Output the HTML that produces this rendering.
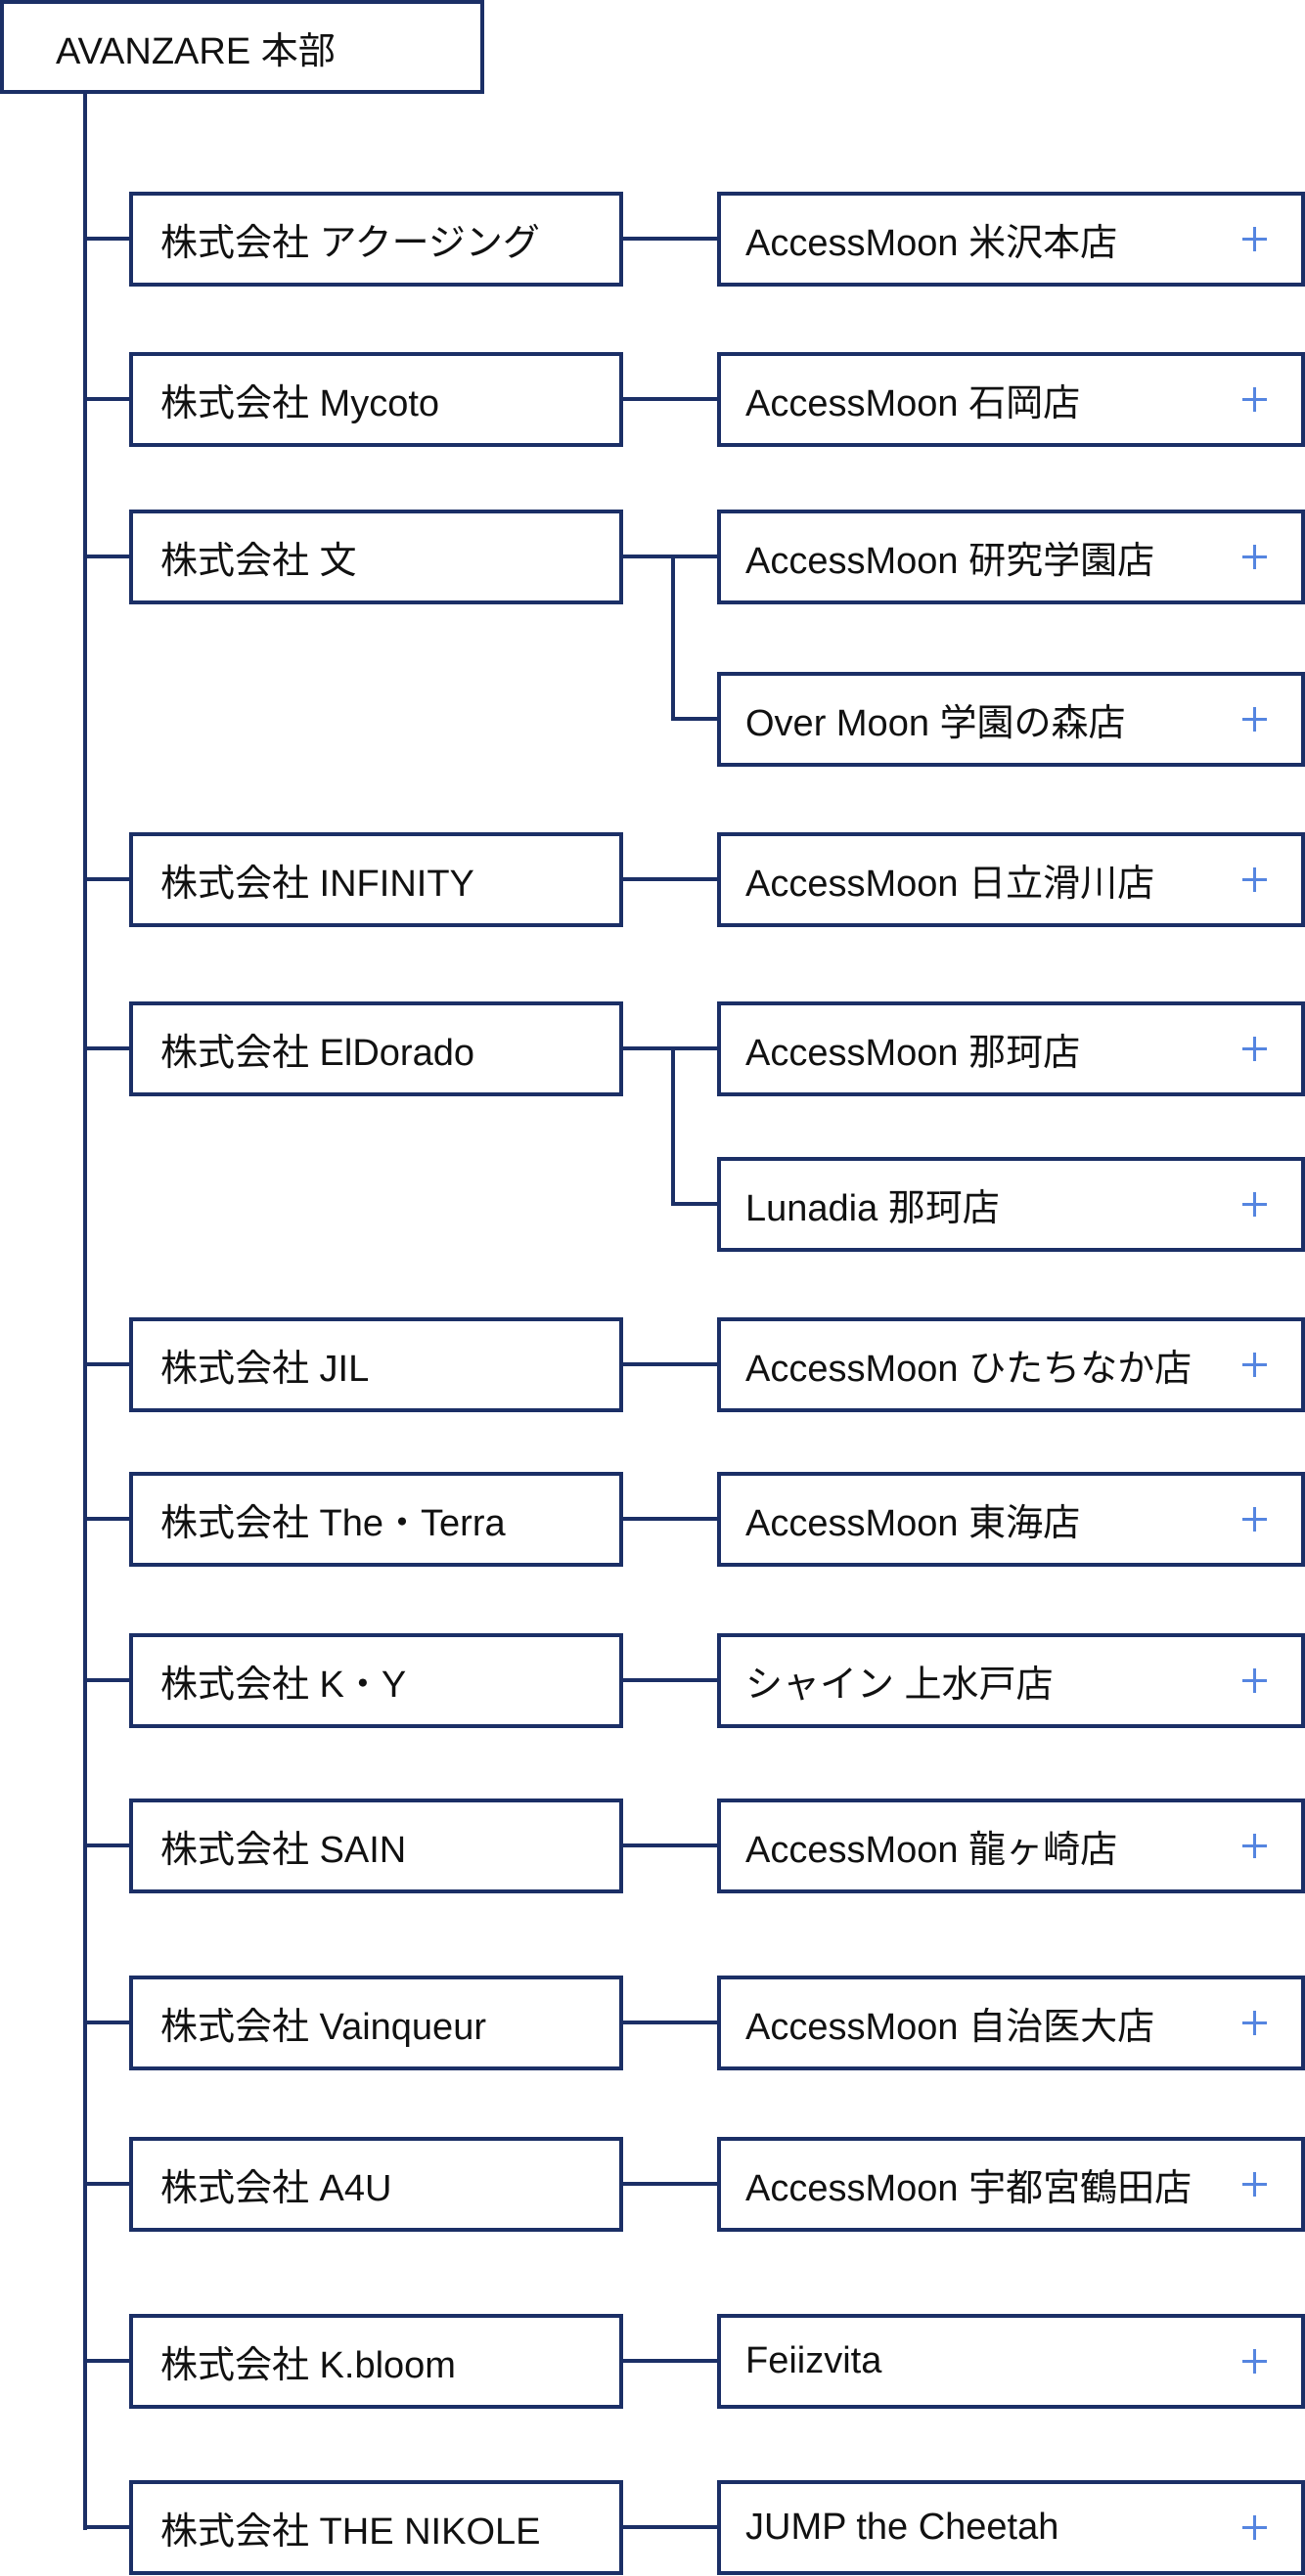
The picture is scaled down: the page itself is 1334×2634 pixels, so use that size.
<!DOCTYPE html>
<html><head><meta charset="utf-8"><style>
body{margin:0;width:1334px;height:2634px;background:#fff;position:relative;overflow:hidden;font-family:"Liberation Sans","Noto Sans CJK JP",sans-serif;color:#111;}
.b{position:absolute;box-sizing:border-box;border:4px solid #1b2f66;background:#fff;font-size:38px;display:flex;align-items:center;white-space:nowrap;}
.c{left:132px;width:505px;height:97px;padding-left:28px;}
.s{left:733px;width:601px;height:97px;padding-left:25px;}
.s::after{content:"";position:absolute;right:35px;top:50%;width:25px;height:3px;margin-top:-1.5px;background:#5585e0;}
.s::before{content:"";position:absolute;right:46px;top:50%;width:3px;height:25px;margin-top:-12.5px;background:#5585e0;}
.l{position:absolute;background:#1b2f66;}
</style></head><body>
<div class="b" style="left:0;top:0;width:495px;height:96px;padding-left:53px;">AVANZARE 本部</div>
<div class="l" style="left:85px;top:94px;width:4px;height:2493px;"></div>

<div id="rows"></div>
<script>
var R=[
["アクージング",196,["AccessMoon 米沢本店"]],
["Mycoto",360,["AccessMoon 石岡店"]],
["文",521,["AccessMoon 研究学園店","Over Moon 学園の森店"],687],
["INFINITY",851,["AccessMoon 日立滑川店"]],
["ElDorado",1024,["AccessMoon 那珂店","Lunadia 那珂店"],1183],
["JIL",1347,["AccessMoon ひたちなか店"]],
["The・Terra",1505,["AccessMoon 東海店"]],
["K・Y",1670,["シャイン 上水戸店"]],
["SAIN",1839,["AccessMoon 龍ヶ崎店"]],
["Vainqueur",2020,["AccessMoon 自治医大店"]],
["A4U",2185,["AccessMoon 宇都宮鶴田店"]],
["K.bloom",2366,["Feiizvita"]],
["THE NIKOLE",2536,["JUMP the Cheetah"]]
];
var h="";
R.forEach(function(r){
var t=r[1],m=t+48;
h+='<div class="b c" style="top:'+t+'px">株式会社 '+r[0]+'</div>';
h+='<div class="l" style="left:87px;top:'+(m-2)+'px;width:46px;height:4px"></div>';
h+='<div class="l" style="left:636px;top:'+(m-2)+'px;width:98px;height:4px"></div>';
h+='<div class="b s" style="top:'+t+'px">'+r[2][0]+'</div>';
if(r[2][1]){var t2=r[3],m2=t2+48;
h+='<div class="b s" style="top:'+t2+'px">'+r[2][1]+'</div>';
h+='<div class="l" style="left:686px;top:'+(m-2)+'px;width:4px;height:'+(m2-m+4)+'px"></div>';
h+='<div class="l" style="left:686px;top:'+(m2-2)+'px;width:48px;height:4px"></div>';}
});
document.getElementById("rows").outerHTML=h;
</script>
</body></html>
